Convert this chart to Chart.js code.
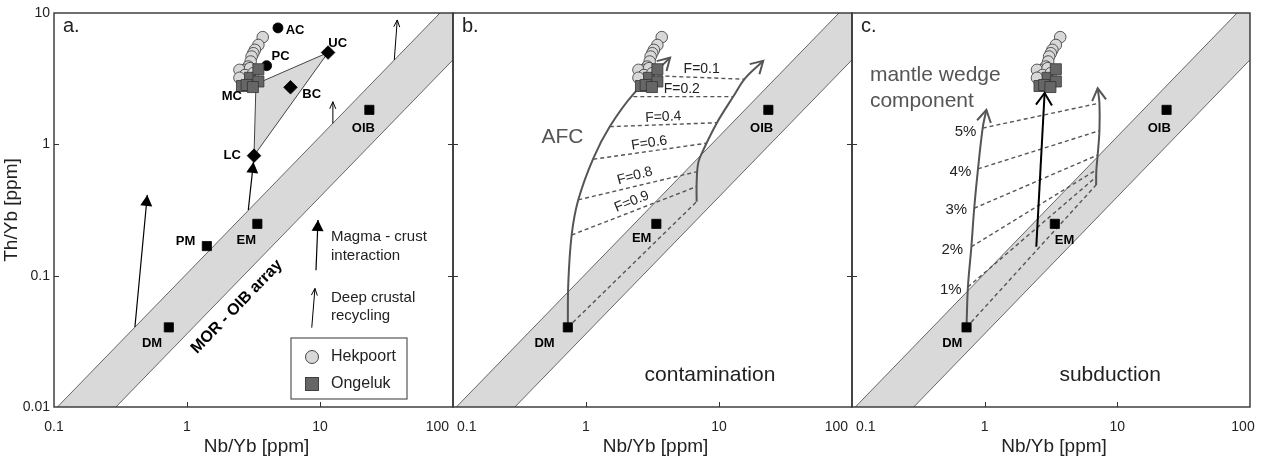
<!DOCTYPE html>
<html>
<head>
<meta charset="utf-8">
<title>Th/Yb vs Nb/Yb</title>
<script src="https://cdn.jsdelivr.net/npm/chart.js@4.4.0/dist/chart.umd.min.js"></script>
<style>
  html, body { margin: 0; padding: 0; background: #fff; }
  #wrap { position: relative; width: 1274px; height: 464px; }
  #wrap canvas { position: absolute; left: 0; top: 0; }
</style>
</head>
<body>
<div id="wrap">
  <canvas id="panelA" width="1274" height="464"></canvas>
  <canvas id="panelB" width="1274" height="464"></canvas>
  <canvas id="panelC" width="1274" height="464"></canvas>
</div>
<script>
// Axes (log-log, shared by the three panels)
const xTicks = [0.1, 1, 10, 100];
const xTickLabels = ['0.1', '1', '10', '100'];
const yTicks = [0.01, 0.1, 1, 10];
const yTickLabels = ['0.01', '0.1', '1', '10'];

// MOR - OIB array: the two bounding lines [Nb/Yb, Th/Yb]
const arrayUpperNb = [0.106, 79.8];
const arrayUpperTh = [0.01, 10];
const arrayLowerNb = [0.292, 100];
const arrayLowerTh = [0.01, 4.4];

// Samples
const hekpoortNb = [3.71, 3.44, 3.24, 3.15, 3.06, 3.01, 2.89, 2.73, 2.48, 2.98, 2.73, 3.15, 2.89, 2.48];
const hekpoortTh = [6.55, 5.71, 5.24, 4.94, 4.66, 4.27, 3.91, 3.69, 3.69, 3.80, 3.37, 3.48, 3.09, 3.21];
const ongelukNb = [2.98, 3.44, 3.44, 2.59, 2.81, 3.13];
const ongelukTh = [3.21, 3.73, 3.01, 2.78, 2.83, 2.73];

// Mantle end members
const mantleNames = ['DM', 'PM', 'EM', 'OIB'];
const mantleNb = [0.73, 1.41, 3.38, 23.5];
const mantleTh = [0.0404, 0.168, 0.248, 1.83];

// Crust reservoirs
const crustNames = ['LC', 'BC', 'UC'];
const crustNb = [3.19, 6.0, 11.5];
const crustTh = [0.82, 2.72, 5.0];
const crustDotNames = ['AC', 'PC'];
const crustDotNb = [4.83, 3.97];
const crustDotTh = [7.7, 3.97];
const crustFieldNb = [3.30, 11.5, 3.19, 3.30]; // MC - UC - LC
const crustFieldTh = [2.88, 5.0, 0.82, 2.88];

// Panel a process arrows
const interactionNb = [[0.406, 0.503], [2.89, 3.16], [9.33, 9.66]];
const interactionTh = [[0.0407, 0.412], [0.316, 0.734], [0.110, 0.265]];
const recyclingNb = [[12.4, 12.5], [36.2, 38.1], [8.67, 9.16]];
const recyclingTh = [[1.45, 2.11], [4.4, 8.85], [0.0402, 0.080]];

// Panel b: AFC model
const afcLeftNb = [0.73, 0.736, 0.780, 0.875, 1.135, 1.51, 2.27, 4.29];
const afcLeftTh = [0.0409, 0.0875, 0.204, 0.378, 0.783, 1.365, 2.41, 4.57];
const afcRightNb = [6.79, 6.79, 6.98, 7.62, 9.61, 12.8, 15.7, 21.5];
const afcRightTh = [0.366, 0.508, 0.722, 0.906, 1.45, 2.31, 3.18, 4.32];
const afcFractions = ['F=0.9', 'F=0.8', 'F=0.6', 'F=0.4', 'F=0.2', 'F=0.1'];
const afcTieNb = [[0.73, 6.79], [0.780, 6.79], [0.875, 6.88], [1.135, 8.07], [1.51, 9.61], [2.27, 12.8], [3.50, 15.7]];
const afcTieTh = [[0.0404, 0.366], [0.204, 0.477], [0.378, 0.620], [0.77, 1.02], [1.365, 1.46], [2.31, 2.31], [3.32, 3.13]];

// Panel c: subduction model
const slabLeftNb = [0.73, 0.748, 0.794, 0.834, 0.891, 0.966, 1.03];
const slabLeftTh = [0.0409, 0.0824, 0.166, 0.326, 0.650, 1.33, 1.83];
const slabRightNb = [6.92, 6.95, 7.11, 7.33, 7.33, 7.11];
const slabRightTh = [0.491, 0.639, 0.830, 1.27, 2.06, 2.67];
const slabPercents = ['1%', '2%', '3%', '4%', '5%'];
const slabTieNb = [[0.73, 6.92], [0.748, 6.93], [0.794, 6.95], [0.834, 7.11], [0.891, 7.33], [0.966, 7.33]];
const slabTieTh = [[0.0404, 0.491], [0.082, 0.565], [0.166, 0.639], [0.326, 0.830], [0.650, 1.27], [1.33, 2.06]];
const wedgeArrowNb = [2.45, 2.83];
const wedgeArrowTh = [0.166, 2.46];

// ---- styling helpers ----
const FONT = '"Liberation Sans", Arial, Helvetica, sans-serif';
const GREY_FILL = '#d9d9d9';
const INK = '#222';
const CURVE = '#555';

function pts(nb, th) {
    return nb.map((v, i) => ({ x: v, y: th[i] }));
}

function line(nb, th, style) {
    return Object.assign({
        data: pts(nb, th), showLine: true, pointRadius: 0, fill: false,
        tension: 0, borderWidth: 1, borderColor: '#000', order: 50
    }, style);
}

function marks(nb, th, style) {
    return Object.assign({
        data: pts(nb, th), showLine: false, borderWidth: 0.8, borderColor: '#333', order: 10
    }, style);
}

function morOibBand() {
    const nb = arrayUpperNb.concat([xTicks[xTicks.length - 1]], arrayLowerNb.slice().reverse(), [arrayUpperNb[0]]);
    const th = arrayUpperTh.concat([yTicks[yTicks.length - 1]], arrayLowerTh.slice().reverse(), [arrayUpperTh[0]]);
    return [
        line(nb, th, { fill: 'shape', backgroundColor: GREY_FILL, borderColor: 'rgba(0,0,0,0)', order: 100 }),
        line(arrayUpperNb, arrayUpperTh, { borderColor: '#444', borderWidth: 0.8, order: 99 }),
        line(arrayLowerNb, arrayLowerTh, { borderColor: '#444', borderWidth: 0.8, order: 99 })
    ];
}

function samples() {
    return [
        marks(hekpoortNb, hekpoortTh, { pointStyle: 'circle', pointRadius: 5.8, backgroundColor: '#d8d8d8', order: 20 }),
        marks(ongelukNb, ongelukTh, { pointStyle: 'rect', pointRadius: 7.8, backgroundColor: '#666', order: 15 })
    ];
}

function mantle(names) {
    const idx = names.map(n => mantleNames.indexOf(n));
    return marks(idx.map(i => mantleNb[i]), idx.map(i => mantleTh[i]),
        { pointStyle: 'rect', pointRadius: 6.5, backgroundColor: '#000', borderColor: '#000', order: 5 });
}

function labels(names, nb, th, font, color, extra) {
    return names.map((t, i) => Object.assign({ t, nb: nb[i], th: th[i], font, color }, extra || {}));
}

// ---- decoration plugin: frame, ticks, tick labels, titles, annotations, arrowheads ----
function drawHead(ctx, x0, y0, x1, y1, head, color, width) {
    const ang = Math.atan2(y1 - y0, x1 - x0);
    const bx = x1 - head.len * Math.cos(ang), by = y1 - head.len * Math.sin(ang);
    const nx = -Math.sin(ang) * head.half, ny = Math.cos(ang) * head.half;
    ctx.save();
    ctx.beginPath();
    if (head.type === 'filled') {
        ctx.fillStyle = color;
        ctx.moveTo(x1, y1);
        ctx.lineTo(bx + nx, by + ny);
        ctx.lineTo(bx - nx, by - ny);
        ctx.closePath();
        ctx.fill();
    } else {
        ctx.strokeStyle = color;
        ctx.lineWidth = width;
        ctx.lineJoin = 'miter';
        ctx.moveTo(bx + nx, by + ny);
        ctx.lineTo(x1, y1);
        ctx.lineTo(bx - nx, by - ny);
        ctx.stroke();
    }
    ctx.restore();
}

const decorPlugin = {
    id: 'decor',
    afterDatasetsDraw(chart) {
        const ctx = chart.ctx;
        chart.data.datasets.forEach((ds, i) => {
            if (!ds.head) return;
            const p = chart.getDatasetMeta(i).data;
            const a = p[p.length - 2], b = p[p.length - 1];
            drawHead(ctx, a.x, a.y, b.x, b.y, ds.head, ds.borderColor, ds.borderWidth);
        });
    },
    afterDraw(chart, args, opts) {
        const ctx = chart.ctx;
        const xs = chart.scales.x, ys = chart.scales.y;
        const { left, right, top, bottom } = chart.chartArea;
        ctx.save();

        // frame + inward ticks
        ctx.strokeStyle = '#333';
        ctx.lineWidth = 1.4;
        ctx.strokeRect(left, top, right - left, bottom - top);
        ctx.lineWidth = 1;
        ctx.beginPath();
        xTicks.slice(1, -1).forEach(v => {
            const px = Math.round(xs.getPixelForValue(v)) + 0.5;
            ctx.moveTo(px, bottom); ctx.lineTo(px, bottom - 5);
        });
        yTicks.slice(1, -1).forEach(v => {
            const py = Math.round(ys.getPixelForValue(v)) + 0.5;
            ctx.moveTo(left, py); ctx.lineTo(left + 5, py);
            if (opts.rightTicks) { ctx.moveTo(right, py); ctx.lineTo(right - 5, py); }
        });
        ctx.stroke();

        // tick labels
        ctx.fillStyle = INK;
        ctx.font = `14px ${FONT}`;
        ctx.textBaseline = 'middle';
        xTicks.forEach((v, i) => {
            let align = 'center', dx = 0;
            if (i === 0) { align = opts.firstAlign; dx = align === 'left' ? 4 : 0; }
            if (i === xTicks.length - 1) { align = opts.lastAlign; dx = align === 'right' ? -4 : (opts.lastShift || 0); }
            ctx.textAlign = align;
            ctx.fillText(xTickLabels[i], xs.getPixelForValue(v) + dx, bottom + 20);
        });
        if (opts.showY) {
            ctx.textAlign = 'right';
            yTicks.forEach((v, i) => ctx.fillText(yTickLabels[i], left - 4, ys.getPixelForValue(v)));
        }

        // axis titles
        ctx.font = `19px ${FONT}`;
        ctx.textAlign = 'center';
        ctx.fillText('Nb/Yb [ppm]', (left + right) / 2 + 3, bottom + 40);
        if (opts.showY) {
            ctx.save();
            ctx.translate(12, (top + bottom) / 2);
            ctx.rotate(-Math.PI / 2);
            ctx.fillText('Th/Yb [ppm]', 0, 0);
            ctx.restore();
        }

        // panel letter
        ctx.font = `20px ${FONT}`;
        ctx.textAlign = 'left';
        ctx.textBaseline = 'alphabetic';
        ctx.fillText(opts.letter, left + 9, top + 19);

        // annotations in data coordinates
        ctx.textBaseline = 'middle';
        (opts.texts || []).forEach(a => {
            ctx.save();
            ctx.translate(xs.getPixelForValue(a.nb), ys.getPixelForValue(a.th));
            if (a.rot) ctx.rotate(a.rot * Math.PI / 180);
            ctx.font = a.font;
            ctx.fillStyle = a.color;
            ctx.textAlign = a.align || 'center';
            ctx.fillText(a.t, 0, 0);
            ctx.restore();
        });

        // sample legend (panel a)
        if (opts.legend) {
            const bx = right - 162, by = bottom - 69;
            ctx.fillStyle = '#fff';
            ctx.fillRect(bx, by, 116, 61);
            ctx.strokeStyle = '#555';
            ctx.lineWidth = 1.2;
            ctx.strokeRect(bx, by, 116, 61);
            ctx.lineWidth = 0.9;
            ctx.strokeStyle = '#333';
            ctx.beginPath();
            ctx.arc(bx + 21, by + 19, 6.5, 0, Math.PI * 2);
            ctx.fillStyle = '#d8d8d8';
            ctx.fill();
            ctx.stroke();
            ctx.fillStyle = '#666';
            ctx.fillRect(bx + 14.5, by + 39.5, 13, 13);
            ctx.strokeRect(bx + 14.5, by + 39.5, 13, 13);
            ctx.fillStyle = INK;
            ctx.font = `16px ${FONT}`;
            ctx.textAlign = 'left';
            ctx.fillText('Hekpoort', bx + 40, by + 19);
            ctx.fillText('Ongeluk', bx + 40, by + 46);
        }
        ctx.restore();
    }
};

function makePanel(canvasId, padLeft, padRight, datasets, decor) {
    return new Chart(document.getElementById(canvasId), {
        type: 'scatter',
        data: { datasets },
        options: {
            responsive: false,
            animation: false,
            devicePixelRatio: 1,
            events: [],
            layout: { padding: { left: padLeft, right: padRight, top: 13, bottom: 57 } },
            scales: {
                x: { type: 'logarithmic', min: xTicks[0], max: xTicks[xTicks.length - 1], display: false },
                y: { type: 'logarithmic', min: yTicks[0], max: yTicks[yTicks.length - 1], display: false }
            },
            plugins: { legend: { display: false }, tooltip: { enabled: false }, decor }
        },
        plugins: [decorPlugin]
    });
}

const BOLD = `bold 13px ${FONT}`;

// ---- panel a ----
const panelASets = [].concat(
    morOibBand(),
    [line(crustFieldNb, crustFieldTh, { fill: 'shape', backgroundColor: GREY_FILL, borderColor: '#444', borderWidth: 1, order: 90 })],
    interactionNb.map((nb, i) => line(nb, interactionTh[i], { borderWidth: 1.2, head: { type: 'filled', len: 11, half: 6 } })),
    recyclingNb.map((nb, i) => line(nb, recyclingTh[i], { borderWidth: 1, head: { type: 'open', len: 7, half: 3 } })),
    [marks(crustDotNb, crustDotTh, { pointStyle: 'circle', pointRadius: 5, backgroundColor: '#000', borderColor: '#000', order: 25 })],
    samples(),
    [mantle(mantleNames)],
    [marks(crustNb, crustTh, { pointStyle: 'rectRot', pointRadius: 6.8, backgroundColor: '#000', borderColor: '#000', order: 5 })]
);
const panelATexts = [].concat(
    labels(['AC', 'PC', 'UC', 'BC', 'MC', 'LC'], [6.49, 5.05, 13.6, 8.67, 2.17, 2.19], [7.43, 4.66, 5.89, 2.38, 2.31, 0.83], BOLD, '#000'),
    labels(['OIB', 'EM', 'PM', 'DM'], [21.2, 2.79, 0.974, 0.546], [1.33, 0.187, 0.182, 0.0306], BOLD, '#000'),
    [{ t: 'MOR - OIB array', nb: 2.37, th: 0.058, font: `bold 16px ${FONT}`, color: '#000', rot: -45.9 }],
    labels(['Magma - crust', 'interaction', 'Deep crustal', 'recycling'], [12.1, 12.1, 12.1, 12.1],
        [0.196, 0.142, 0.0679, 0.0493], `15px ${FONT}`, INK, { align: 'left' })
);
makePanel('panelA', 54, 1274 - 453, panelASets, {
    letter: 'a.', showY: true, rightTicks: true, firstAlign: 'center', lastAlign: 'right',
    legend: true, texts: panelATexts
});

// ---- panel b ----
const panelBSets = [].concat(
    morOibBand(),
    afcTieNb.map((nb, i) => line(nb, afcTieTh[i], { borderColor: CURVE, borderWidth: 1.4, borderDash: [4, 3], order: 60 })),
    [line(afcLeftNb, afcLeftTh, { borderColor: CURVE, borderWidth: 2, tension: 0.35, head: { type: 'open', len: 12, half: 7 }, order: 40 }),
     line(afcRightNb, afcRightTh, { borderColor: CURVE, borderWidth: 2, tension: 0.35, head: { type: 'open', len: 12, half: 7 }, order: 40 })],
    samples(),
    [mantle(['DM', 'EM', 'OIB'])]
);
const panelBTexts = [].concat(
    labels(['OIB', 'EM', 'DM'], [20.9, 2.62, 0.488], [1.33, 0.191, 0.0306], BOLD, '#000'),
    afcFractions.map((t, i) => ({
        t, nb: [2.21, 2.33, 2.99, 3.81, 5.25, 7.41][i], th: [0.366, 0.574, 1.02, 1.61, 2.63, 3.75][i],
        rot: [-22, -15, -9, -3, 0, 0][i], font: `14px ${FONT}`, color: INK
    })),
    [{ t: 'AFC', nb: 0.665, th: 1.13, font: `21px ${FONT}`, color: CURVE },
     { t: 'contamination', nb: 8.55, th: 0.0175, font: `21px ${FONT}`, color: INK }]
);
makePanel('panelB', 453, 1274 - 852, panelBSets, {
    letter: 'b.', showY: false, rightTicks: true, firstAlign: 'left', lastAlign: 'right', texts: panelBTexts
});

// ---- panel c ----
const panelCSets = [].concat(
    morOibBand(),
    slabTieNb.map((nb, i) => line(nb, slabTieTh[i], { borderColor: CURVE, borderWidth: 1.4, borderDash: [4, 3], order: 60 })),
    [line(slabLeftNb, slabLeftTh, { borderColor: CURVE, borderWidth: 2, tension: 0.35, head: { type: 'open', len: 12, half: 7 }, order: 40 }),
     line(slabRightNb, slabRightTh, { borderColor: CURVE, borderWidth: 2, tension: 0.35, head: { type: 'open', len: 12, half: 7 }, order: 40 }),
     line(wedgeArrowNb, wedgeArrowTh, { borderColor: '#000', borderWidth: 2, head: { type: 'open', len: 12, half: 8 }, order: 3 })],
    samples(),
    [mantle(['DM', 'EM', 'OIB'])]
);
const panelCTexts = [].concat(
    labels(['OIB', 'EM', 'DM'], [20.7, 4.0, 0.57], [1.33, 0.187, 0.0306], BOLD, '#000'),
    labels(slabPercents, [0.555, 0.570, 0.611, 0.657, 0.717], [0.0778, 0.157, 0.316, 0.620, 1.25], `15px ${FONT}`, INK),
    labels(['mantle wedge', 'component'], [0.1365, 0.1365], [3.38, 2.14], `21px ${FONT}`, CURVE, { align: 'left' }),
    [{ t: 'subduction', nb: 8.83, th: 0.0175, font: `21px ${FONT}`, color: INK }]
);
makePanel('panelC', 852, 1274 - 1250, panelCSets, {
    letter: 'c.', showY: false, rightTicks: false, firstAlign: 'left', lastAlign: 'center', lastShift: -7,
    texts: panelCTexts
});
</script>
</body>
</html>
